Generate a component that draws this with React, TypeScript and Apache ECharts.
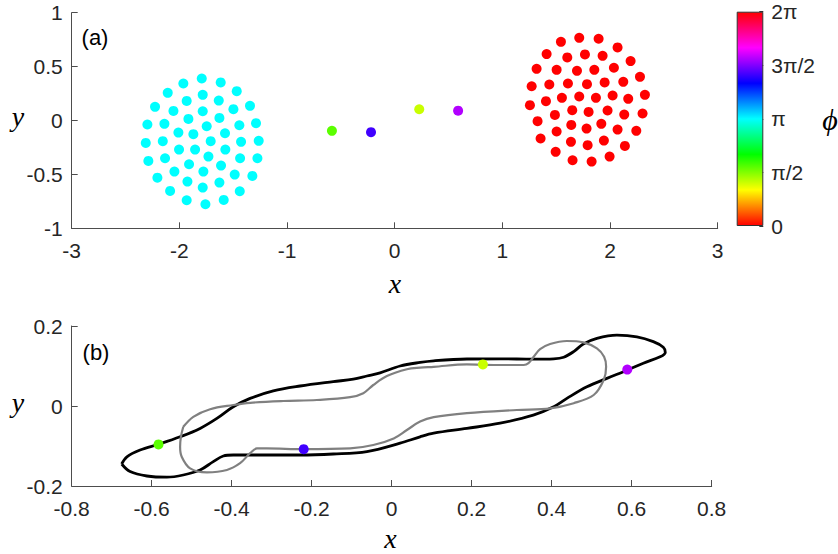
import React, { useEffect, useRef } from 'react';
import * as echarts from 'echarts';

const PI = Math.PI;

// Panel (a): cyan cluster (phase = pi)
const cyanX = [-1.792, -1.963, -1.616, -2.108, -1.467, -1.783, -1.932, -1.634, -2.226, -1.344, -2.055, -1.783, -1.498, -2.297, -2.139, -1.916, -1.628, -1.288, -1.443, -1.746, -2.009, -1.870, -1.576, -2.312, -2.154, -1.709, -1.427, -1.263, -2.003, -1.854, -1.573, -2.288, -2.133, -1.730, -1.436, -1.275, -1.910, -1.613, -2.046, -1.777, -1.486, -2.204, -1.322, -1.925, -1.628, -2.086, -1.783, -1.439, -1.932, -1.758, -1.588];
const cyanY = [0.390, 0.343, 0.353, 0.257, 0.272, 0.238, 0.182, 0.185, 0.127, 0.136, 0.089, 0.086, 0.105, -0.037, -0.031, 0.015, 0.024, -0.025, -0.044, -0.053, -0.112, -0.127, -0.118, -0.208, -0.192, -0.192, -0.198, -0.189, -0.270, -0.270, -0.270, -0.375, -0.350, -0.335, -0.350, -0.350, -0.406, -0.418, -0.474, -0.474, -0.502, -0.530, -0.514, -0.567, -0.576, -0.653, -0.622, -0.656, -0.740, -0.777, -0.737];
const cyanPhase = PI;

// Panel (a): red cluster (phase = 0)
const redX = [1.544, 1.714, 1.894, 1.411, 1.603, 1.767, 1.931, 2.070, 1.318, 1.504, 1.693, 1.854, 2.036, 2.191, 1.272, 1.436, 1.609, 1.786, 1.950, 2.123, 2.278, 1.256, 1.405, 1.553, 1.714, 1.869, 2.024, 2.169, 2.324, 1.327, 1.488, 1.649, 1.801, 1.977, 2.132, 2.302, 1.355, 1.504, 1.640, 1.782, 1.919, 2.070, 2.244, 1.495, 1.637, 1.792, 1.943, 2.138, 1.652, 1.829, 1.996];
const redY = [0.730, 0.767, 0.758, 0.616, 0.585, 0.613, 0.600, 0.678, 0.479, 0.470, 0.461, 0.470, 0.489, 0.551, 0.318, 0.334, 0.343, 0.337, 0.353, 0.359, 0.405, 0.142, 0.179, 0.210, 0.223, 0.210, 0.232, 0.201, 0.238, -0.006, 0.052, 0.096, 0.080, 0.093, 0.055, 0.065, -0.167, -0.102, -0.041, -0.075, -0.031, -0.084, -0.096, -0.291, -0.198, -0.229, -0.186, -0.236, -0.369, -0.381, -0.335];
const redPhase = 0;

// Four travelling oscillators (shown in both panels)
const midX = [-0.583, -0.220, 0.228, 0.589];
const midY = [-0.096, -0.108, 0.104, 0.091];
const midPhase = [1.72, 4.45, 1.27, 4.92];

// Panel (b): black closed curve
const blackX = [-0.675, -0.662, -0.629, -0.581, -0.529, -0.479, -0.437, -0.396, -0.354, -0.296, -0.229, -0.146, -0.096, -0.062, -0.029, 0.021, 0.071, 0.105, 0.188, 0.271, 0.354, 0.405, 0.430, 0.455, 0.479, 0.513, 0.563, 0.613, 0.654, 0.679, 0.684, 0.671, 0.629, 0.590, 0.538, 0.488, 0.438, 0.405, 0.354, 0.271, 0.188, 0.105, 0.071, 0.021, -0.062, -0.146, -0.229, -0.312, -0.396, -0.421, -0.446, -0.479, -0.521, -0.562, -0.612, -0.654, -0.675];
const blackY = [-0.145, -0.127, -0.110, -0.095, -0.077, -0.056, -0.031, -0.002, 0.019, 0.038, 0.050, 0.061, 0.067, 0.075, 0.083, 0.100, 0.109, 0.113, 0.1175, 0.118, 0.117, 0.118, 0.122, 0.136, 0.155, 0.169, 0.177, 0.173, 0.161, 0.147, 0.134, 0.123, 0.107, 0.090, 0.069, 0.048, 0.019, -0.002, -0.023, -0.043, -0.056, -0.068, -0.077, -0.093, -0.114, -0.120, -0.1225, -0.1225, -0.1225, -0.125, -0.139, -0.160, -0.1725, -0.178, -0.175, -0.164, -0.145];

// Panel (b): gray closed curve
const grayX = [-0.521, -0.496, -0.454, -0.396, -0.354, -0.271, -0.187, -0.104, -0.071, -0.046, -0.012, 0.038, 0.071, 0.105, 0.188, 0.230, 0.271, 0.330, 0.342, 0.355, 0.371, 0.396, 0.438, 0.479, 0.513, 0.531, 0.536, 0.530, 0.505, 0.455, 0.396, 0.313, 0.188, 0.105, 0.071, 0.038, 0.005, -0.046, -0.104, -0.220, -0.312, -0.337, -0.354, -0.379, -0.412, -0.462, -0.504, -0.525, -0.529, -0.527, -0.521];
const grayY = [-0.052, -0.027, -0.008, 0.0025, 0.008, 0.0125, 0.015, 0.022, 0.032, 0.0525, 0.075, 0.092, 0.096, 0.098, 0.104, 0.103, 0.1025, 0.1025, 0.107, 0.123, 0.142, 0.155, 0.1625, 0.159, 0.144, 0.123, 0.098, 0.065, 0.0275, 0.007, -0.006, -0.010, -0.018, -0.028, -0.039, -0.060, -0.081, -0.0975, -0.106, -0.108, -0.106, -0.106, -0.118, -0.143, -0.160, -0.166, -0.156, -0.127, -0.102, -0.077, -0.052];

// Colorbar
const phaseRange = [0, 2 * PI];
const phaseTickLabels = ['0', 'π/2', 'π', '3π/2', '2π'];
const hsvColors = ['#ff0000', '#ffff00', '#00ff00', '#00ffff', '#0000ff', '#ff00ff', '#ff0000'];

const SANS = "'Liberation Sans', Arial, sans-serif";
const SERIF = "'Liberation Serif', 'DejaVu Serif', serif";
const AXIS_COLOR = '#4d4d4d';
const LABEL_COLOR = '#262626';

const numFmt = (v: number) => String(Math.round(v * 100) / 100);

function valueAxis(gridIndex: number, min: number, max: number, interval: number, isX: boolean) {
  return {
    type: 'value',
    gridIndex,
    min,
    max,
    interval,
    axisLine: { show: true, onZero: false, lineStyle: { color: AXIS_COLOR, width: 1 } },
    axisTick: { show: true, inside: true, length: 6, lineStyle: { color: AXIS_COLOR, width: 1 } },
    axisLabel: {
      color: LABEL_COLOR,
      fontSize: 21,
      fontFamily: SANS,
      margin: isX ? 12 : 9,
      showMinLabel: true,
      showMaxLabel: true,
      formatter: numFmt,
    },
    splitLine: { show: false },
  };
}

function txt(x: number, y: number, text: string, font: string) {
  return {
    type: 'text',
    x,
    y,
    silent: true,
    style: {
      text,
      font,
      fill: '#000',
      align: 'center',
      verticalAlign: 'middle',
      textAlign: 'center',
      textVerticalAlign: 'middle',
    },
  };
}

const dotStyle = { opacity: 1 };

export default function App() {
  const ref = useRef<HTMLDivElement>(null);
  useEffect(() => {
    const chart = echarts.init(ref.current!, null, { renderer: 'svg' });
    const gradient = new echarts.graphic.LinearGradient(
      0, 1, 0, 0,
      hsvColors.map((c, i) => ({ offset: i / (hsvColors.length - 1), color: c }))
    );
    const option: any = {
      animation: false,
      backgroundColor: '#ffffff',
      grid: [
        { left: 71.7, top: 12.7, width: 646, height: 215.6 },
        { left: 71.7, top: 326, width: 640, height: 160 },
        { left: 736.7, top: 11.7, width: 26.6, height: 214.3 },
      ],
      xAxis: [
        valueAxis(0, -3, 3, 1, true),
        valueAxis(1, -0.8, 0.8, 0.2, true),
        { type: 'category', gridIndex: 2, data: ['phi'], show: false, boundaryGap: true },
      ],
      yAxis: [
        valueAxis(0, -1, 1, 0.5, false),
        valueAxis(1, -0.2, 0.2, 0.2, false),
        {
          type: 'value',
          gridIndex: 2,
          position: 'right',
          min: phaseRange[0],
          max: phaseRange[1],
          interval: PI / 2,
          axisLine: { show: false },
          axisTick: { show: true, inside: true, length: 4, lineStyle: { color: '#333', width: 1 } },
          axisLabel: {
            color: LABEL_COLOR,
            fontSize: 21,
            fontFamily: SANS,
            margin: 8,
            showMinLabel: true,
            showMaxLabel: true,
            formatter: (v: number) => phaseTickLabels[Math.round(v / (PI / 2))] ?? '',
          },
          splitLine: { show: false },
        },
      ],
      visualMap: {
        type: 'continuous',
        show: false,
        min: phaseRange[0],
        max: phaseRange[1],
        dimension: 2,
        seriesIndex: [0, 1, 2, 5],
        inRange: { color: hsvColors },
      },
      series: [
        {
          type: 'scatter', xAxisIndex: 0, yAxisIndex: 0, symbolSize: 10, silent: true, itemStyle: dotStyle,
          data: cyanX.map((x, i) => [x, cyanY[i], cyanPhase]),
        },
        {
          type: 'scatter', xAxisIndex: 0, yAxisIndex: 0, symbolSize: 10, silent: true, itemStyle: dotStyle,
          data: redX.map((x, i) => [x, redY[i], redPhase]),
        },
        {
          type: 'scatter', xAxisIndex: 0, yAxisIndex: 0, symbolSize: 10, silent: true, itemStyle: dotStyle,
          data: midX.map((x, i) => [x, midY[i], midPhase[i]]),
        },
        {
          type: 'line', xAxisIndex: 1, yAxisIndex: 1, showSymbol: false, smooth: 0.35, silent: true,
          lineStyle: { color: '#000000', width: 2.8 },
          data: blackX.map((x, i) => [x, blackY[i]]),
          z: 2,
        },
        {
          type: 'line', xAxisIndex: 1, yAxisIndex: 1, showSymbol: false, smooth: 0.35, silent: true,
          lineStyle: { color: '#808080', width: 2.2 },
          data: grayX.map((x, i) => [x, grayY[i]]),
          z: 3,
        },
        {
          type: 'scatter', xAxisIndex: 1, yAxisIndex: 1, symbolSize: 10, silent: true, z: 5, itemStyle: dotStyle,
          data: midX.map((x, i) => [x, midY[i], midPhase[i]]),
        },
        {
          type: 'bar', xAxisIndex: 2, yAxisIndex: 2, barWidth: '100%', silent: true,
          data: [phaseRange[1]],
          itemStyle: { color: gradient, borderColor: '#333333', borderWidth: 1 },
        },
      ],
      graphic: [
        txt(95, 37, '(a)', `22px ${SANS}`),
        txt(96, 352, '(b)', `22px ${SANS}`),
        txt(395, 283, 'x', `italic 28px ${SERIF}`),
        txt(390.5, 538, 'x', `italic 28px ${SERIF}`),
        txt(18, 116, 'y', `italic 28px ${SERIF}`),
        txt(18, 402, 'y', `italic 28px ${SERIF}`),
        txt(830, 119, 'ϕ', `italic 30px ${SERIF}`),
      ],
    };
    chart.setOption(option);
    return () => chart.dispose();
  }, []);
  return (
    <div
      ref={ref}
      style={{ position: 'absolute', left: 0, top: 0, width: 838, height: 554, background: '#fff' }}
    />
  );
}
